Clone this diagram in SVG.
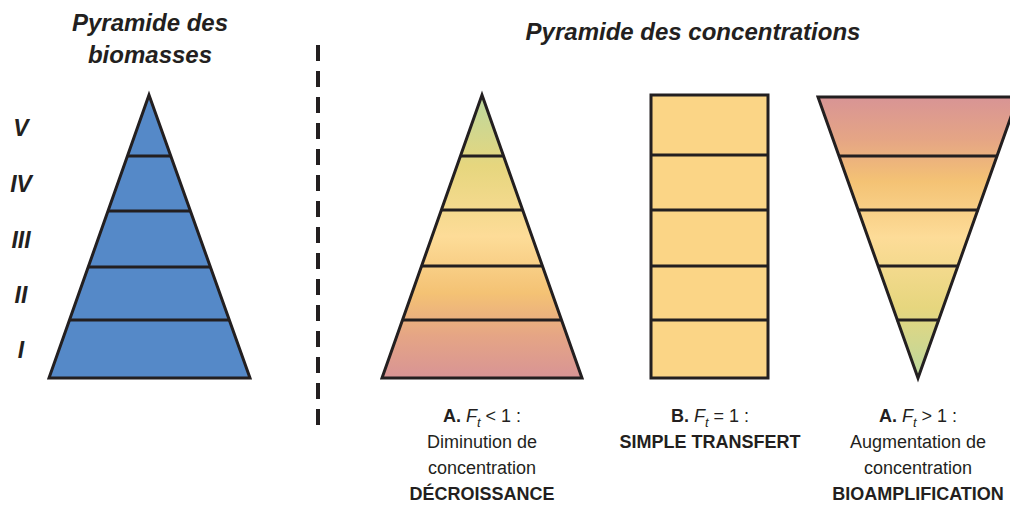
<svg xmlns="http://www.w3.org/2000/svg" width="1010" height="506" viewBox="0 0 1010 506">
<style>
.t{font-family:"Liberation Sans",Arial,sans-serif;font-weight:bold;font-style:italic;font-size:24px;fill:#231F20}
.r{font-family:"Liberation Sans",Arial,sans-serif;font-weight:bold;font-style:italic;font-size:23px;fill:#231F20}
.l{font-family:"Liberation Sans",Arial,sans-serif;font-size:18px;fill:#231F20;text-anchor:middle}
.b{font-weight:bold}
.i{font-style:italic}
.s{stroke:#231F20;stroke-width:3;stroke-linejoin:miter}
</style>
<defs>
<linearGradient id="gUp" x1="0" y1="95" x2="0" y2="378" gradientUnits="userSpaceOnUse">
<stop offset="0" stop-color="#BCD89E"/>
<stop offset="0.25" stop-color="#E6D67E"/>
<stop offset="0.5" stop-color="#FDDC98"/>
<stop offset="0.7" stop-color="#F4C274"/>
<stop offset="0.85" stop-color="#E5A585"/>
<stop offset="1" stop-color="#D89495"/>
</linearGradient>
<linearGradient id="gDn" x1="0" y1="378" x2="0" y2="97" gradientUnits="userSpaceOnUse">
<stop offset="0" stop-color="#BCD89E"/>
<stop offset="0.25" stop-color="#E6D67E"/>
<stop offset="0.5" stop-color="#FDDC98"/>
<stop offset="0.7" stop-color="#F4C274"/>
<stop offset="0.85" stop-color="#E5A585"/>
<stop offset="1" stop-color="#D89495"/>
</linearGradient>
</defs>
<g id="titles">
<text class="t" x="150" y="31" text-anchor="middle">Pyramide des</text>
<text class="t" x="150" y="63" text-anchor="middle">biomasses</text>
<text class="t" x="693" y="40" text-anchor="middle">Pyramide des concentrations</text>
</g>
<g id="levels">
<text class="r" x="21" y="136" text-anchor="middle">V</text>
<text class="r" x="21" y="192" text-anchor="middle">IV</text>
<text class="r" x="21" y="248" text-anchor="middle">III</text>
<text class="r" x="21" y="303" text-anchor="middle">II</text>
<text class="r" x="21" y="358" text-anchor="middle">I</text>
</g>
<g id="separator">
<line x1="318" y1="45" x2="318" y2="428" stroke="#231F20" stroke-width="4" stroke-dasharray="16 10"/>
</g>
<g id="biomass">
<polygon class="s" points="149,95 250,378 49,378" fill="#5589C8"/>
<line class="s" x1="127.6" y1="156" x2="170.4" y2="156"/>
<line class="s" x1="108" y1="211" x2="190" y2="211"/>
<line class="s" x1="88" y1="267" x2="210" y2="267"/>
<line class="s" x1="69" y1="320" x2="229" y2="320"/>
</g>
<g id="decroissance">
<polygon class="s" points="482,95 582,378 382,378" fill="url(#gUp)"/>
<line class="s" x1="460.4" y1="156" x2="503.6" y2="156"/>
<line class="s" x1="441.5" y1="210" x2="522.5" y2="210"/>
<line class="s" x1="421.6" y1="266" x2="542.4" y2="266"/>
<line class="s" x1="402.5" y1="320" x2="561.5" y2="320"/>
</g>
<g id="transfert">
<rect class="s" x="651" y="95" width="117" height="283" fill="#FBD586"/>
<line class="s" x1="651" y1="155" x2="768" y2="155"/>
<line class="s" x1="651" y1="210" x2="768" y2="210"/>
<line class="s" x1="651" y1="266" x2="768" y2="266"/>
<line class="s" x1="651" y1="320" x2="768" y2="320"/>
</g>
<g id="bioamplification">
<polygon class="s" points="818,97 1018,97 918,378" fill="url(#gDn)"/>
<line class="s" x1="838.6" y1="156" x2="997.4" y2="156"/>
<line class="s" x1="857.5" y1="210" x2="978.5" y2="210"/>
<line class="s" x1="877.8" y1="266" x2="958.2" y2="266"/>
<line class="s" x1="896.6" y1="320" x2="939.4" y2="320"/>
</g>
<g id="labels">
<text class="l" x="482" y="422"><tspan class="b">A.</tspan> <tspan class="i">F</tspan><tspan class="i" font-size="13" dy="5">t</tspan><tspan dy="-5"> &lt; 1 :</tspan></text>
<text class="l" x="482" y="448">Diminution de</text>
<text class="l" x="482" y="474">concentration</text>
<text class="l b" x="482" y="500">DÉCROISSANCE</text>
<text class="l" x="710" y="422"><tspan class="b">B.</tspan> <tspan class="i">F</tspan><tspan class="i" font-size="13" dy="5">t</tspan><tspan dy="-5"> = 1 :</tspan></text>
<text class="l b" x="710" y="448">SIMPLE TRANSFERT</text>
<text class="l" x="918" y="422"><tspan class="b">A.</tspan> <tspan class="i">F</tspan><tspan class="i" font-size="13" dy="5">t</tspan><tspan dy="-5"> &gt; 1 :</tspan></text>
<text class="l" x="918" y="448">Augmentation de</text>
<text class="l" x="918" y="474">concentration</text>
<text class="l b" x="918" y="500">BIOAMPLIFICATION</text>
</g>
</svg>
